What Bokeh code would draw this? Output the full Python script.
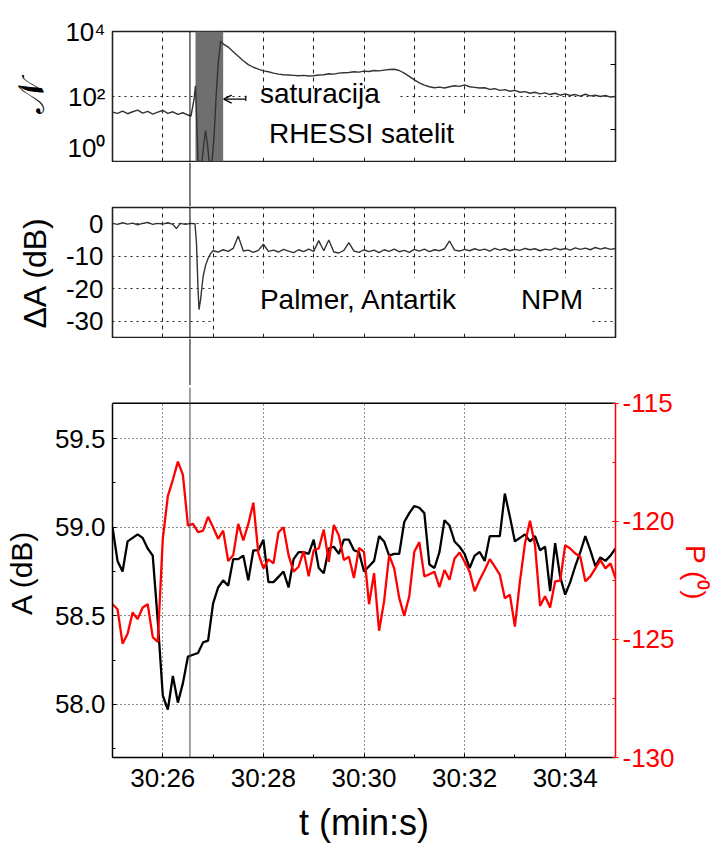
import numpy as np
from bokeh.plotting import figure
from bokeh.layouts import column
from bokeh.models import (Range1d, LinearAxis, LogAxis, FixedTicker,
                          SingleIntervalTicker, Label, Arrow, OpenHead,
                          BoxAnnotation, Span, PrintfTickFormatter)
from bokeh.embed import file_html
from bokeh.resources import INLINE

FONT = "Liberation Sans"

# ---------------- data ----------------
# top panel: RHESSI count rate (log10 N), time in s after 30:00
t_n = ([25.0, 25.1, 25.2, 25.3, 25.4, 25.5, 25.6, 25.7, 25.8, 25.9,
        26.0, 26.1, 26.2, 26.3, 26.4, 26.5]
       + [26.56, 26.62, 26.65, 26.68, 26.7, 26.78, 26.82, 26.85, 26.89,
          26.92, 26.98, 27.02, 27.06, 27.1, 27.15]
       + list(np.round(np.arange(27.2, 35.001, 0.1), 2)))
log_n = ([1.52, 1.48, 1.55, 1.47, 1.53, 1.58, 1.49, 1.54, 1.46, 1.52,
          1.57, 1.48, 1.53, 1.45, 1.50, 1.43]
         + [1.40, 1.90, 2.33, 1.00, 0.00, 0.00, 0.60, 0.95, 0.50,
            0.00, 0.00, 0.80, 2.00, 3.00, 3.71]
         + [3.62, 3.52, 3.38, 3.24, 3.10, 2.98, 2.90, 2.84,
            2.79, 2.76, 2.72, 2.69, 2.67, 2.66, 2.65, 2.64, 2.65, 2.63,
            2.64, 2.66, 2.67, 2.70, 2.69, 2.72, 2.73, 2.74, 2.76, 2.75,
            2.78, 2.77, 2.80, 2.79, 2.81, 2.83, 2.84, 2.80, 2.72, 2.62,
            2.51, 2.42, 2.35, 2.30, 2.27, 2.29, 2.26, 2.30, 2.33, 2.31,
            2.36, 2.30, 2.28, 2.26, 2.27, 2.22, 2.24, 2.19, 2.21, 2.16,
            2.19, 2.13, 2.15, 2.10, 2.13, 2.08, 2.11, 2.06, 2.10, 2.04,
            2.08, 2.03, 2.06, 2.01, 2.07, 2.02, 2.04, 2.00, 2.03, 1.98,
            2.00])
n_counts = [10 ** v for v in log_n]

# middle panel: amplitude change dA (dB)
t_d = ([25.0, 25.1, 25.2, 25.3, 25.4, 25.5, 25.6, 25.7, 25.8, 25.9,
        26.0, 26.1, 26.2, 26.27, 26.35, 26.45, 26.55, 26.64, 26.67, 26.7,
        26.72, 26.75, 26.8, 26.85, 26.9, 26.95]
       + list(np.round(np.arange(27.0, 35.001, 0.1), 2)))
delta_a = ([0.1, -0.2, 0.3, -0.1, 0.2, -0.3, 0.1, 0.4, -0.2, 0.1,
            -0.1, 0.3, -0.2, -1.5, 0.1, -0.2, 0.1, 0.0, -6.0, -20.0,
            -26.4, -23.5, -16.3, -12.8, -10.7, -9.2]
           + [-8.3, -8.7, -8.0, -8.5, -7.6, -3.8, -8.4, -8.1, -8.8, -8.2,
              -6.3, -8.5, -8.1, -8.7, -7.9, -8.4, -8.9, -8.0, -8.6, -7.8,
              -8.5, -5.2, -8.3, -5.0, -8.7, -9.0, -8.2, -5.8, -8.4, -8.8,
              -8.0, -8.6, -8.1, -8.9, -8.0, -8.5, -7.8, -8.6, -8.2, -8.8,
              -7.9, -8.4, -7.8, -8.6, -8.0, -8.3, -7.7, -5.3, -8.1, -8.4,
              -7.9, -8.3, -7.7, -8.2, -7.8, -8.4, -7.6, -8.1, -7.7, -8.3,
              -7.9, -8.2, -7.6, -8.0, -7.7, -8.3, -7.8, -8.1, -7.5, -8.0,
              -7.6, -8.1, -7.4, -7.9, -7.5, -8.0, -7.3, -7.8, -7.4, -7.9,
              -7.6])

# bottom panel: amplitude A (dB) and phase P (deg), 0.1 s samples
t_ap = list(np.round(np.arange(25.0, 35.001, 0.1), 2))
amp_a = [59.00, 58.81, 58.75, 58.92, 58.94, 58.96, 58.94, 58.88, 58.84, 58.47,
         58.05, 57.97, 58.16, 58.01, 58.12, 58.27, 58.28, 58.29, 58.35, 58.36,
         58.57, 58.66, 58.70, 58.67, 58.82, 58.82, 58.84, 58.70, 58.87, 58.87,
         58.93, 58.69, 58.69, 58.72, 58.75, 58.66, 58.82, 58.86, 58.86, 58.85,
         58.93, 58.77, 58.74, 58.88, 58.89, 58.85, 58.93, 58.93, 58.87, 58.86,
         58.75, 58.78, 58.81, 58.95, 58.92, 58.84, 58.85, 58.85, 59.03, 59.08,
         59.12, 59.11, 59.08, 58.79, 58.77, 58.86, 59.04, 59.01, 58.92, 58.89,
         58.85, 58.77, 58.84, 58.86, 58.81, 58.95, 58.95, 58.95, 59.19, 59.06,
         58.92, 58.94, 58.96, 58.92, 58.95, 58.87, 58.89, 58.64, 58.91, 58.72,
         58.62, 58.69, 58.78, 58.86, 58.95, 58.87, 58.78, 58.83, 58.81, 58.84,
         58.88]
phase_p = [-123.51, -123.72, -125.18, -124.76, -123.86, -124.14, -123.65, -123.51, -124.90, -125.11,
           -120.74, -118.93, -118.24, -117.47, -118.03, -120.18, -120.11, -120.46, -120.39, -119.81,
           -120.25, -120.74, -120.39, -121.68, -121.43, -120.11, -120.81, -120.11, -119.21, -121.36,
           -121.99, -121.61, -121.78, -120.46, -120.25, -121.43, -122.13, -121.92, -121.26, -122.33,
           -121.22, -121.15, -120.35, -121.71, -120.15, -120.60, -121.64, -121.50, -122.40, -121.13,
           -121.29,
           -123.51, -122.19, -124.63, -123.38, -121.43, -121.99, -123.24, -124.00, -123.17,
           -121.29, -120.88, -122.33, -122.24, -122.13, -122.79, -122.06, -122.47, -121.57, -121.32,
           -121.71, -122.13, -122.96, -122.47, -122.06, -121.60, -121.92, -122.26, -123.26, -123.10,
           -124.46, -122.54, -120.94, -119.97, -121.01, -123.58, -123.17, -123.65, -122.54, -122.51,
           -121.01, -121.15, -121.36, -121.50, -122.54, -122.33, -121.99, -121.64, -121.99, -121.78,
           -122.40]

event_t = 26.54
sat_start, sat_end = 26.65, 27.2
xtick_secs = [26, 28, 30, 32, 34]
xtick_labels = ["30:26", "30:28", "30:30", "30:32", "30:34"]
sec_ticks = [25, 26, 27, 28, 29, 30, 31, 32, 33, 34, 35]
n_ticks = [1, 100, 10000]
n_tick_labels = ["10\u2070", "10\u00b2", "10\u2074"]
n_minor = [10, 1000]
da_ticks = [0, -10, -20, -30]
a_lo, a_hi = 57.7, 59.7
p_lo, p_hi = -130, -115

# ---------------- helpers ----------------
xr = Range1d(25, 35)


def base_fig(height, top, bottom, y_range, y_type="linear", **kw):
    p = figure(width=715, height=height, x_range=xr, y_range=y_range,
               y_axis_type=y_type, output_backend="svg", toolbar_location=None,
               min_border_left=112, min_border_right=100,
               min_border_top=top, min_border_bottom=bottom, **kw)
    p.background_fill_color = "white"
    p.border_fill_color = "white"
    return p


def style_axis(ax, size="26px"):
    ax.major_label_text_font = FONT
    ax.major_label_text_font_size = size
    ax.major_label_text_color = "black"
    ax.axis_label_text_font = FONT
    ax.axis_label_text_font_style = "normal"
    ax.axis_label_text_color = "black"


def blank_labels(ax, ticks, size="4px"):
    ax.major_label_overrides = {k: "" for k in ticks}
    ax.major_label_text_font_size = size
    ax.major_label_standoff = 0


def vline(p, color):
    p.add_layout(Span(location=event_t, dimension="height", line_color=color,
                      line_width=1, level="overlay"))


def spacer(height):
    s = base_fig(height, 0, 0, Range1d(0, 1), x_axis_location=None,
                 y_axis_location=None)
    s.outline_line_color = None
    s.grid.visible = False
    vline(s, "black")
    return s


def top_style(p, ax_ticker_y):
    p.outline_line_color = "#222222"
    p.outline_line_width = 1.6
    xt = FixedTicker(ticks=sec_ticks, minor_ticks=[])
    p.xgrid.ticker = xt
    p.xgrid.grid_line_color = "#222222"
    p.xgrid.grid_line_dash = "4 4"
    p.xgrid.grid_line_width = 1
    p.ygrid.ticker = ax_ticker_y
    p.yaxis.ticker = ax_ticker_y
    p.ygrid.grid_line_color = "#222222"
    p.ygrid.grid_line_dash = "2 4"
    p.ygrid.grid_line_width = 1.2
    p.yaxis.major_tick_in = 0
    p.yaxis.major_tick_out = 0
    p.yaxis.minor_tick_in = 0
    p.yaxis.minor_tick_out = 0
    p.yaxis.axis_line_color = None


def white_box(p, left, right, top, bottom, **kw):
    p.add_layout(BoxAnnotation(left=left, right=right, top=top, bottom=bottom,
                               fill_color="white", fill_alpha=1, line_alpha=1,
                               level="underlay", **kw))


# ---------------- top panel ----------------
p1 = base_fig(162, 31, 1, Range1d(1, 1e4), "log", x_axis_location=None)
top_style(p1, FixedTicker(ticks=n_ticks, minor_ticks=[]))
style_axis(p1.yaxis[0])
p1.yaxis.major_label_overrides = {k: v for k, v in zip(n_ticks, n_tick_labels)}
p1.yaxis.major_label_standoff = 7
p1.yaxis.axis_label = "\U0001D4A9"
p1.yaxis.axis_label_text_font_size = "36px"
p1.yaxis.axis_label_standoff = 10
rax1 = LogAxis(ticker=FixedTicker(ticks=n_minor, minor_ticks=[]),
               major_tick_in=5, major_tick_out=0, minor_tick_in=0,
               minor_tick_out=0, axis_line_color=None)
blank_labels(rax1, n_minor)
p1.add_layout(rax1, "right")

p1.add_layout(BoxAnnotation(left=sat_start, right=sat_end, fill_color="#6f6f6f",
                            fill_alpha=1, line_color=None, level="underlay"))
white_box(p1, 27.67, 30.67, 10 ** 2.24, 10 ** 0.12, line_color=None)
white_box(p1, 30.67, 32.2, 10 ** 1.47, 10 ** 0.12, line_color=None)
p1.line(t_n, n_counts, line_color="#333333", line_width=1.4)
p1.add_layout(Label(x=27.93, y=10 ** 1.61, text="saturacija", text_font=FONT,
                    text_font_size="28px", text_color="black"))
p1.add_layout(Label(x=28.11, y=10 ** 0.40, text="RHESSI satelit", text_font=FONT,
                    text_font_size="28px", text_color="black"))
p1.add_layout(Arrow(end=OpenHead(size=8, line_width=1.2, line_color="black"),
                    x_start=27.65, x_end=27.21, y_start=10 ** 1.92,
                    y_end=10 ** 1.92, line_color="black", line_width=1.2))
p1.add_layout(Arrow(start=None, end=None, x_start=27.65, x_end=27.65,
                    y_start=10 ** 2.02, y_end=10 ** 1.86, line_color="black",
                    line_width=1.2))
vline(p1, "black")

# ---------------- middle panel ----------------
p2 = base_fig(132, 1, 1, Range1d(-35, 5), x_axis_location=None)
top_style(p2, FixedTicker(ticks=da_ticks, minor_ticks=[]))
style_axis(p2.yaxis[0])
p2.yaxis.formatter = PrintfTickFormatter(format="%d")
p2.yaxis.major_label_standoff = 9
p2.yaxis.axis_label = "\u0394A (dB)"
p2.yaxis.axis_label_text_font_size = "32px"
p2.yaxis.axis_label_standoff = 10
white_box(p2, 27.02, 34.5, -16.7, -33.77, line_color=None)
p2.line(t_d, delta_a, line_color="#333333", line_width=1.4)
p2.add_layout(Label(x=27.93, y=-27.96, text="Palmer, Antartik", text_font=FONT,
                    text_font_size="28px", text_color="black"))
p2.add_layout(Label(x=33.12, y=-27.96, text="NPM", text_font=FONT,
                    text_font_size="28px", text_color="black"))
vline(p2, "black")

# ---------------- bottom panel ----------------
# the frame reaches 16 px above the data box so that the vertical event
# line runs on without a break; that strip is masked white.
panel_px, extra_px = 359, 16
a_top = a_hi + extra_px * (a_hi - a_lo) / panel_px
p_top = p_hi + extra_px * (p_hi - p_lo) / panel_px
p3 = base_fig(460, 2, 83, Range1d(a_lo, a_top))
p3.outline_line_color = None
p3.extra_y_ranges = {"phase": Range1d(p_lo, p_top)}

xt3 = SingleIntervalTicker(interval=2, num_minor_ticks=2)
p3.xaxis.ticker = xt3
p3.xgrid.ticker = xt3
style_axis(p3.xaxis[0])
p3.xaxis.major_label_overrides = {k: v for k, v in zip(xtick_secs, xtick_labels)}
p3.xaxis.major_tick_in = 4
p3.xaxis.major_tick_out = 0
p3.xaxis.minor_tick_in = 3
p3.xaxis.minor_tick_out = 0
p3.xaxis.axis_line_width = 1.5
p3.xaxis.major_label_standoff = 5
p3.xaxis.axis_label = "t (min:s)"
p3.xaxis.axis_label_text_font_size = "36px"
p3.xaxis.axis_label_standoff = 6

yt3 = SingleIntervalTicker(interval=0.5, num_minor_ticks=2)
p3.yaxis.ticker = yt3
p3.ygrid.ticker = yt3
style_axis(p3.yaxis[0])
p3.yaxis.bounds = (a_lo, a_hi)
p3.yaxis.formatter = PrintfTickFormatter(format="%.1f")
p3.yaxis.major_tick_in = 4
p3.yaxis.major_tick_out = 0
p3.yaxis.minor_tick_in = 3
p3.yaxis.minor_tick_out = 0
p3.yaxis.axis_line_width = 1.5
p3.yaxis.major_label_standoff = 7
p3.yaxis.axis_label = "A (dB)"
p3.yaxis.axis_label_text_font_size = "30px"
p3.yaxis.axis_label_standoff = 14

for g in (p3.xgrid, p3.ygrid):
    g.grid_line_color = "#222222"
    g.grid_line_dash = "1 3"
    g.grid_line_width = 1

# mask above the data box; its lower edge is the box's top border
white_box(p3, 24, 36, a_top + 1, a_hi, line_color="black", line_width=1.5)

rax3 = LinearAxis(y_range_name="phase",
                  ticker=SingleIntervalTicker(interval=5, num_minor_ticks=2),
                  axis_label="P (\u2070)", bounds=(p_lo, p_hi))
style_axis(rax3)
rax3.formatter = PrintfTickFormatter(format="%d")
rax3.axis_line_color = "red"
rax3.axis_line_width = 1.5
rax3.major_tick_line_color = "red"
rax3.minor_tick_line_color = "red"
rax3.major_label_text_color = "red"
rax3.axis_label_text_color = "red"
rax3.axis_label_text_font_size = "28px"
rax3.major_tick_in = 3
rax3.major_tick_out = 3
rax3.minor_tick_in = 3
rax3.minor_tick_out = 0
rax3.major_label_standoff = 4
rax3.axis_label_standoff = 2
p3.add_layout(rax3, "right")

p3.line(t_ap, amp_a, line_color="black", line_width=2.3)
p3.line(t_ap, phase_p, line_color="red", line_width=2.3, y_range_name="phase")
vline(p3, "#444444")

layout = column(p1, spacer(44), p2, spacer(47), p3, spacing=0)
open("out.html", "w").write(file_html(layout, INLINE))
